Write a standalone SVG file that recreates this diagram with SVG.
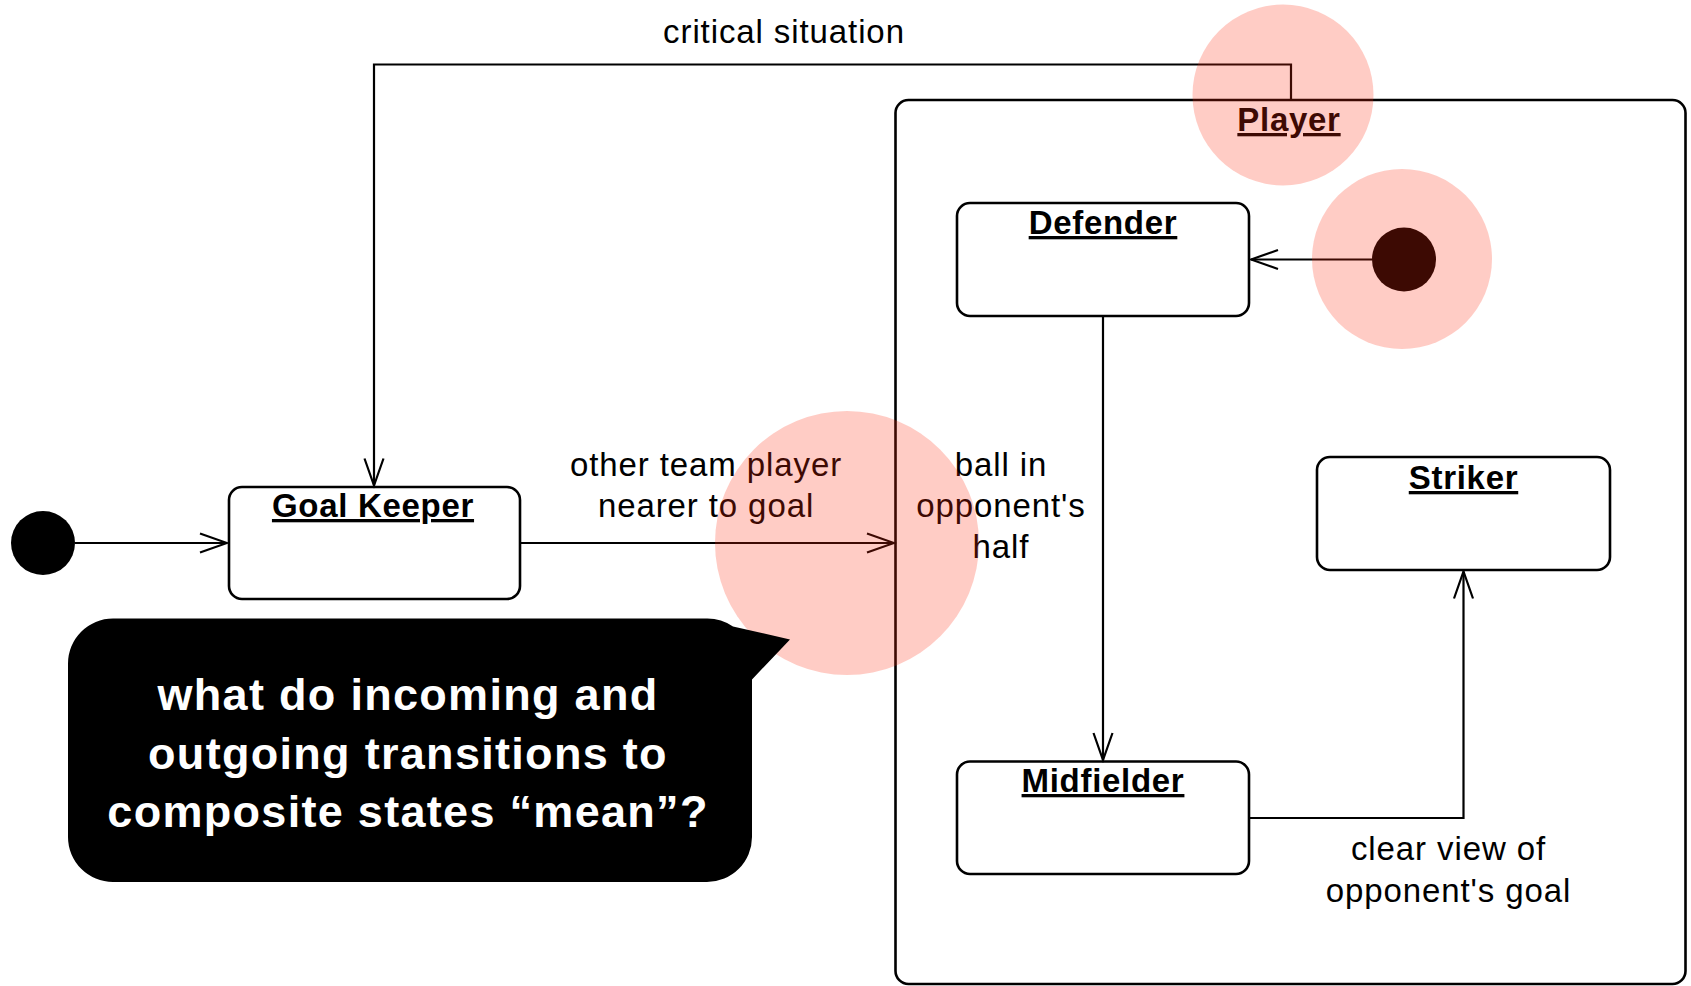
<svg xmlns="http://www.w3.org/2000/svg" width="1691" height="986" viewBox="0 0 1691 986">
  <style>
    .state { fill: #fff; stroke: #000; stroke-width: 2.6; }
    .composite { fill: none; stroke: #000; stroke-width: 2.6; }
    .initial { fill: #000; }
    .edge { fill: none; stroke: #000; stroke-width: 2.2; marker-end: url(#open); }
    .name { font-family: "Liberation Sans", Arial, Helvetica, sans-serif; font-weight: bold; font-size: 33px; letter-spacing: 0.7px; text-anchor: middle; text-decoration: underline; fill: #000; }
    .label { font-family: "Liberation Sans", Arial, Helvetica, sans-serif; font-size: 33px; letter-spacing: 0.9px; text-anchor: middle; fill: #000; }
    .spot { fill: #FF2A0C; fill-opacity: 0.24; }
    .bubble { fill: #000; }
    .bubble-text { font-family: "Liberation Sans", Arial, Helvetica, sans-serif; font-weight: bold; font-size: 45px; letter-spacing: 1.3px; text-anchor: middle; fill: #fff; }
  </style>
  <defs>
    <marker id="open" viewBox="-30 -12 33 24" markerWidth="33" markerHeight="24" refX="0" refY="0" orient="auto" markerUnits="userSpaceOnUse">
      <path d="M-27,-9.5 L0,0 L-27,9.5" fill="none" stroke="#000" stroke-width="2.2"/>
    </marker>
  </defs>

  <rect width="1691" height="986" fill="#fff"/>

  <!-- composite state -->
  <g id="player">
    <rect class="composite" x="895.5" y="100" width="790" height="884" rx="13"/>
    <text class="name" x="1289" y="131">Player</text>
  </g>

  <!-- initial pseudo-states -->
  <g id="start">
    <circle class="initial" cx="43" cy="543" r="32"/>
  </g>
  <g id="player-start">
    <circle class="initial" cx="1404" cy="259.5" r="32"/>
  </g>

  <!-- simple states -->
  <g id="goal-keeper">
    <rect class="state" x="229" y="487" width="291" height="112" rx="13"/>
    <text class="name" x="373" y="517">Goal Keeper</text>
  </g>
  <g id="defender">
    <rect class="state" x="957" y="203" width="292" height="113" rx="13"/>
    <text class="name" x="1103" y="234">Defender</text>
  </g>
  <g id="midfielder">
    <rect class="state" x="957" y="761.5" width="292" height="112.5" rx="13"/>
    <text class="name" x="1103" y="792">Midfielder</text>
  </g>
  <g id="striker">
    <rect class="state" x="1317" y="457" width="293" height="113" rx="13"/>
    <text class="name" x="1463.5" y="489">Striker</text>
  </g>

  <!-- transitions -->
  <g id="connectors">
    <path class="edge" d="M75,543 H227"/>
    <path class="edge" d="M520,543 H894"/>
    <path class="edge" d="M1291,100 V64.5 H374 V485.5"/>
    <path class="edge" d="M1372,259.5 H1251"/>
    <path class="edge" d="M1103,316 V760"/>
    <path class="edge" d="M1249,818 H1463.5 V571.5"/>
    <text class="label" x="784" y="43">critical situation</text>
    <text class="label" x="706" y="476">other team player</text>
    <text class="label" x="706" y="517">nearer to goal</text>
    <text class="label" x="1001" y="476">ball in</text>
    <text class="label" x="1001" y="517">opponent's</text>
    <text class="label" x="1001" y="558">half</text>
    <text class="label" x="1448.5" y="860">clear view of</text>
    <text class="label" x="1448.5" y="901.5">opponent's goal</text>
  </g>

  <!-- highlight spots -->
  <g id="highlights">
    <circle class="spot" cx="1283" cy="95" r="90.5"/>
    <circle class="spot" cx="1402" cy="259" r="90"/>
    <circle class="spot" cx="847" cy="543" r="132"/>
  </g>

  <!-- callout -->
  <g id="callout">
    <path class="bubble" d="M113,618.5 H707 A45,45 0 0 1 733,626.5 L790,639.5 L752,679.5 V837 A45,45 0 0 1 707,882 H113 A45,45 0 0 1 68,837 V663.5 A45,45 0 0 1 113,618.5 Z"/>
    <text class="bubble-text" x="408" y="710">what do incoming and</text>
    <text class="bubble-text" x="408" y="768.5">outgoing transitions to</text>
    <text class="bubble-text" x="408" y="827">composite states “mean”?</text>
  </g>
</svg>
